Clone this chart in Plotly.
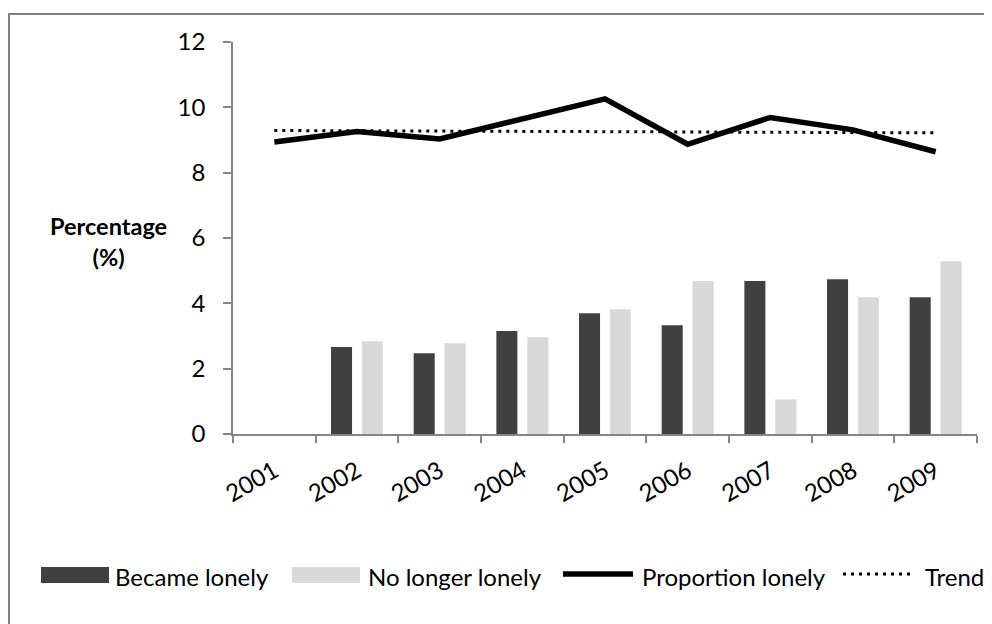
import plotly.graph_objects as go

years = ['2001', '2002', '2003', '2004', '2005', '2006', '2007', '2008', '2009']
became_lonely = [None, 2.66, 2.47, 3.15, 3.70, 3.33, 4.68, 4.74, 4.19]
no_longer_lonely = [None, 2.84, 2.78, 2.96, 3.82, 4.68, 1.06, 4.19, 5.29]
proportion_lonely = [8.94, 9.26, 9.03, 9.64, 10.26, 8.87, 9.69, 9.31, 8.64]
trend = [9.29, 9.28, 9.27, 9.26, 9.26, 9.25, 9.24, 9.23, 9.22]
y_ticks = [0, 2, 4, 6, 8, 10, 12]

# page body has an 8px margin, so the figure is sized to fit the 992x624 window
OFF = 8
W, H = 992 - OFF, 624 - OFF
ML, MT = 233 - OFF, 42 - OFF
PW, PH = 744, 392
MR, MB = W - ML - PW, H - MT - PH
FONT = "Lato, Carlito, Calibri, sans-serif"
DARK, LIGHT, AXIS = "#404040", "#d9d9d9", "#868686"


def px(x):
    return (x - OFF - ML) / PW


def py(y):
    return (H - MB - (y - OFF)) / PH


fig = go.Figure()
fig.add_trace(go.Bar(x=years, y=became_lonely, name="Became lonely",
                     marker=dict(color=DARK, line=dict(width=0))))
fig.add_trace(go.Bar(x=years, y=no_longer_lonely, name="No longer lonely",
                     marker=dict(color=LIGHT, line=dict(width=0))))
fig.add_trace(go.Scatter(x=years, y=trend, name="Trend", mode="lines",
                         line=dict(color="black", width=3, dash="3px,5px")))
fig.add_trace(go.Scatter(x=years, y=proportion_lonely, name="Proportion lonely",
                         mode="lines", line=dict(color="black", width=5.5)))

shapes = [
    # outer frame
    dict(type="rect", xref="paper", yref="paper", x0=px(9), x1=px(1010),
         y0=py(650), y1=py(14), line=dict(color="#7f7f7f", width=2),
         fillcolor="rgba(0,0,0,0)", layer="below"),
    # legend keys
    dict(type="rect", xref="paper", yref="paper", x0=px(41), x1=px(109),
         y0=py(583), y1=py(567), line=dict(width=0), fillcolor=DARK),
    dict(type="rect", xref="paper", yref="paper", x0=px(292), x1=px(360),
         y0=py(583), y1=py(567), line=dict(width=0), fillcolor=LIGHT),
    dict(type="line", xref="paper", yref="paper", x0=px(563), x1=px(633),
         y0=py(574), y1=py(574), line=dict(color="black", width=5.5)),
    dict(type="line", xref="paper", yref="paper", x0=px(843), x1=px(914),
         y0=py(574), y1=py(574), line=dict(color="black", width=3, dash="3px,5px")),
]

legend_texts = [("Became lonely", 113), ("No longer lonely", 366),
                ("Proportion lonely", 640), ("Trend", 923)]
annotations = [
    dict(text=t, x=px(x0), y=py(576), xref="paper", yref="paper", xanchor="left",
         yanchor="middle", showarrow=False, font=dict(family=FONT, size=24, color="black"))
    for t, x0 in legend_texts
]
annotations.append(dict(text="<b>Percentage<br>(%)</b>", x=px(108), y=py(241),
                        xref="paper", yref="paper", xanchor="center", yanchor="middle",
                        showarrow=False, font=dict(family=FONT, size=23.5, color="black")))

fig.update_layout(
    width=W, height=H, autosize=False,
    margin=dict(l=ML, r=MR, t=MT, b=MB),
    paper_bgcolor="white", plot_bgcolor="white",
    barmode="group", bargap=0.252, bargroupgap=0.32,
    showlegend=False,
    font=dict(family=FONT, size=24, color="black"),
    shapes=shapes, annotations=annotations,
    xaxis=dict(type="category", range=[-0.5, 8.5], tickson="boundaries",
               ticks="outside", ticklen=7, tickcolor=AXIS, tickwidth=1.5,
               showline=True, linecolor=AXIS, linewidth=1.5, showgrid=False,
               tickangle=-30, ticklabelstandoff=12,
               tickfont=dict(family=FONT, size=24, color="black")),
    yaxis=dict(range=[0, 12], tickvals=y_ticks, ticks="outside", ticklen=8,
               tickcolor=AXIS, tickwidth=1.5, showline=True, linecolor=AXIS,
               linewidth=1.5, showgrid=False, zeroline=False, ticklabelstandoff=13,
               tickfont=dict(family=FONT, size=24, color="black")),
)

fig.write_html("out.html")
